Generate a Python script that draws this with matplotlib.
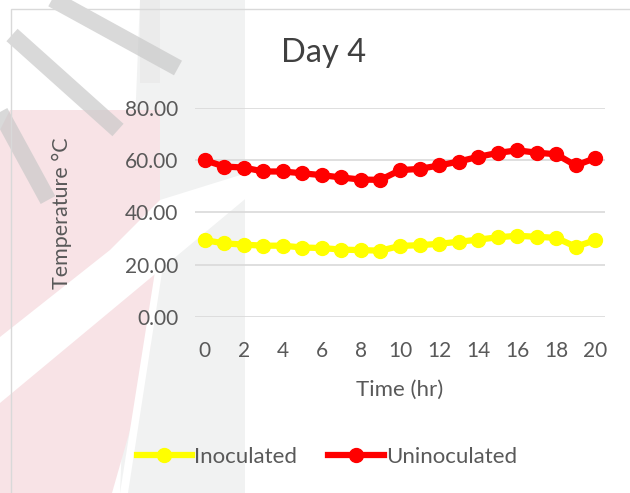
import matplotlib.pyplot as plt
from matplotlib.patches import Rectangle, Polygon
from matplotlib.lines import Line2D

# data
hours = list(range(0, 21))
inoculated = [29.4, 28.2, 27.7, 27.3, 27.3, 26.6, 26.4, 25.8, 25.6, 25.4, 27.2,
              27.5, 28.0, 28.8, 29.6, 30.5, 31.1, 30.7, 30.3, 26.9, 29.4]
uninoculated = [60.0, 57.6, 57.2, 55.7, 55.7, 55.0, 54.3, 53.4, 52.6, 52.5, 56.2,
                56.7, 58.0, 59.5, 61.3, 62.8, 63.8, 62.9, 62.3, 58.0, 60.8]
x_ticks = list(range(0, 21, 2))
y_ticks = [0, 20, 40, 60, 80]

plt.rcParams['font.family'] = ['Lato', 'DejaVu Sans']
txt = '#595959'

fig = plt.figure(figsize=(6.3, 4.93), dpi=100)
W, H = 630.0, 493.0


def px(pts):
    # pixel coords (from top-left) -> figure fraction
    return [(x / W, 1 - y / H) for x, y in pts]


def shape(pts, color, z, alpha=1.0):
    fig.patches.append(Polygon(px(pts), transform=fig.transFigure, facecolor=color,
                               edgecolor='none', alpha=alpha, zorder=z))


# faint watermark behind the chart
shape([(140, 0), (245, 0), (245, 493), (120, 493)], '#f1f2f2', -6)
shape([(10, 110), (160, 110), (160, 250), (150, 350), (130, 430), (112, 493), (0, 493), (0, 130)],
      '#f8e3e6', -5)
shape([(160, 240), (167, 240), (128, 493), (120, 493)], 'white', -4)
shape([(0, 337), (110, 250), (160, 200), (250, 172), (250, 195), (160, 270), (0, 403)], 'white', -4)
shape([(140, 0), (160, 0), (160, 83), (140, 83)], '#ebebeb', -3)
for (x0, y0), (x1, y1) in [((45, -5), (178, 68)), ((12, 35), (118, 130)), ((0, 112), (48, 200))]:
    fig.add_artist(Line2D([x0 / W, x1 / W], [1 - y0 / H, 1 - y1 / H], transform=fig.transFigure,
                          color='#c9c9c9', alpha=0.7, linewidth=12, solid_capstyle='butt', zorder=-2))
# chart area border
fig.patches.append(Rectangle((11 / W, -0.1), 1.2, 1 - 9 / H + 0.1, transform=fig.transFigure,
                             fill=False, edgecolor='#d9d9d9', linewidth=1.0))

ax = fig.add_axes([195 / W, 1 - 317 / H, 410 / W, 209 / H])
ax.plot(hours, inoculated, color='#ffff00', marker='o', markersize=10, linewidth=4.5,
        label='Inoculated')
ax.plot(hours, uninoculated, color='#ff0000', marker='o', markersize=10, linewidth=4.5,
        label='Uninoculated')

ax.set_xlim(-0.5, 20.5)
ax.set_ylim(0, 80)
ax.set_xticks(x_ticks)
ax.set_yticks(y_ticks)
ax.set_yticklabels(['%.2f' % v for v in y_ticks])
ax.tick_params(length=0, labelsize=15, colors=txt, pad=12)
ax.tick_params(axis='x', pad=17)
ax.grid(axis='y', color='#d9d9d9', linewidth=1.2)
ax.set_axisbelow(True)
for s in ax.spines.values():
    s.set_visible(False)
ax.patch.set_alpha(0)

ax.set_xlabel('Time (hr)', fontsize=16, color=txt, labelpad=14)
fig.text(324 / W, 1 - 53 / H, 'Day 4', fontsize=23.5, color='#404040', ha='center', va='center')
fig.text(62 / W, 1 - 213 / H, 'Temperature \u00b0C', fontsize=15.5, color=txt,
         rotation=90, ha='center', va='center')

fig.legend(loc='center', bbox_to_anchor=(327 / W, 1 - 457 / H), ncol=2, frameon=False,
           fontsize=16, labelcolor=txt, handlelength=2.5, handletextpad=0.1, columnspacing=1.4)

plt.savefig('out.png', dpi=100)
